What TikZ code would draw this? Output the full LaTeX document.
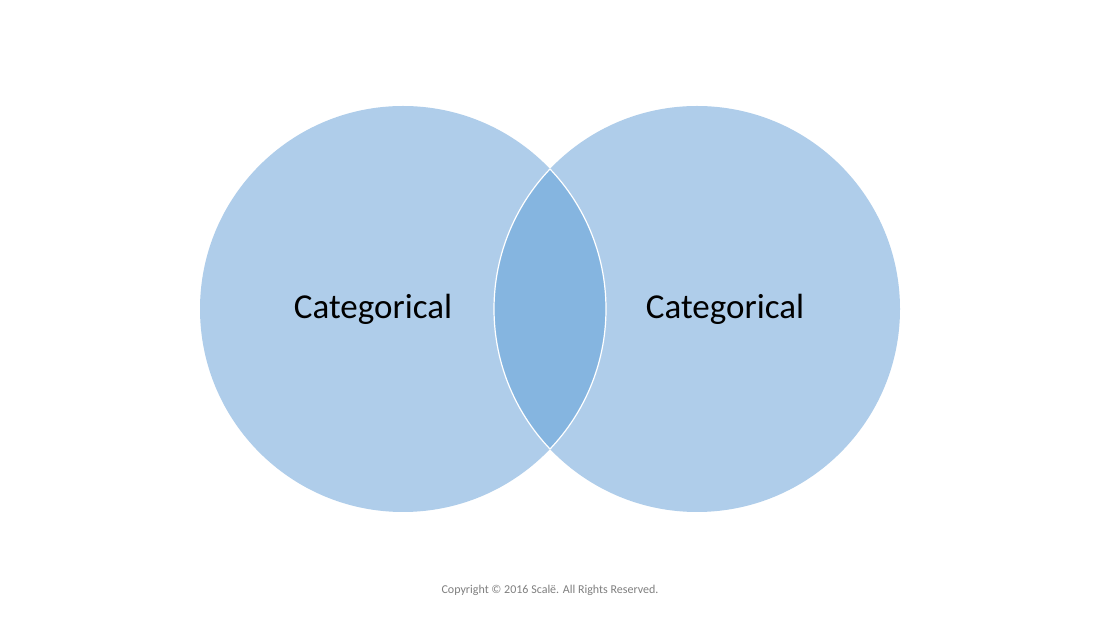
\documentclass[tikz,border=0pt]{standalone}
\usepackage{fontspec}
\setmainfont{Carlito}
\definecolor{lightc}{HTML}{AFCDEA}
\definecolor{darkc}{HTML}{85B5E0}
\definecolor{copyc}{HTML}{7F7F7F}
\begin{document}
\begin{tikzpicture}[x=1pt,y=1pt,
  setc/.style={fill=lightc},
  lbl/.style={font=\fontsize{35}{40}\selectfont, text=black},
  copy/.style={font=\fontsize{12}{14}\selectfont, text=copyc}]
\useasboundingbox (0,0) rectangle (1100,618);
\fill[white] (0,0) rectangle (1100,618);
\fill[setc] (403,309) circle (203);
\fill[setc] (697,309) circle (203);
\begin{scope}
\clip (403,309) circle (203);
\fill[darkc] (697,309) circle (203);
\draw[white,line width=1.2pt] (697,309) circle (203);
\end{scope}
\begin{scope}
\clip (697,309) circle (203);
\draw[white,line width=1.2pt] (403,309) circle (203);
\end{scope}
\node[lbl] (a) at (373,309) {Categorical};
\node[lbl] (b) at (725,309) {Categorical};
\node[copy] (c) at (550,28) {Copyright © 2016 Scalë. All Rights Reserved.};
\end{tikzpicture}
\end{document}
